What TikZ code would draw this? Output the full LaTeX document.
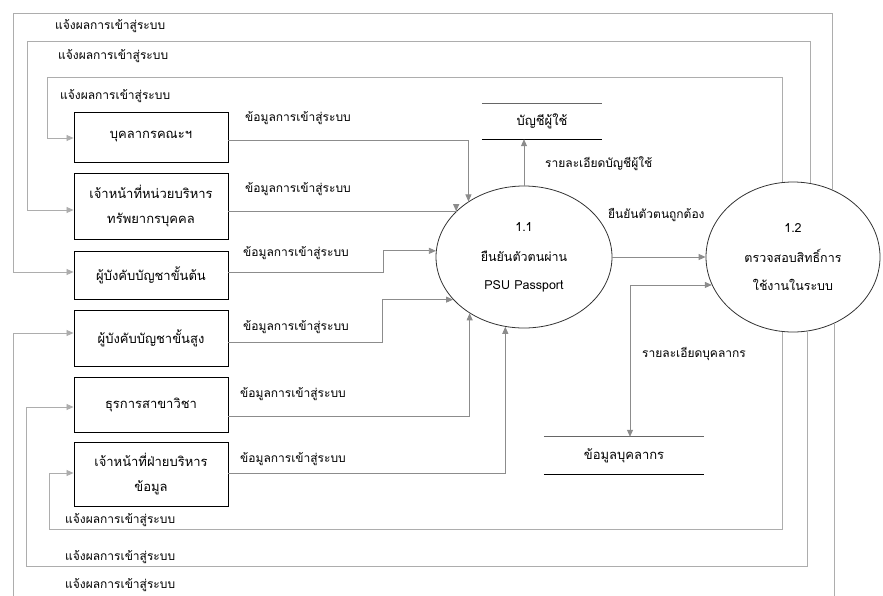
\documentclass[tikz,border=0pt]{standalone}
\usepackage{fontspec}
\newfontfamily\thaifont[Script=Thai]{Loma}
\usetikzlibrary{arrows.meta,shapes.geometric,calc}

\tikzset{
  box/.style={draw=black, line width=0.9pt, minimum width=154pt, align=center, inner sep=0pt,
    font=\thaifont\fontsize{13}{15}\selectfont},
  proc/.style={ellipse, draw=black!80, line width=0.8pt, align=center, inner sep=0pt,
    font=\thaifont\fontsize{12.5}{15}\selectfont},
  store/.style={minimum width=120pt, minimum height=35pt, inner sep=0pt,
    font=\thaifont\fontsize{13}{15}\selectfont},
  flow/.style={draw=black!45, line width=0.8pt, -{Triangle[length=7pt,width=6pt]}},
  fb/.style={draw=black!32, line width=0.8pt, -{Triangle[length=7pt,width=6pt]}},
  lbl/.style={anchor=west, inner sep=0pt},
  txt/.style={font=\thaifont\fontsize{12}{14}\selectfont}
}

\begin{document}
\begin{tikzpicture}[x=1pt, y=-1pt, txt]
\useasboundingbox (0,0) rectangle (883,595);
\clip (0,0) rectangle (883,595);

% external entities
\node[box, minimum height=50pt] (b1) at (151,137) {บุคลากรคณะฯ};
\node[box, minimum height=66pt] (b2) at (151,206) {เจ้าหน้าที่หน่วยบริหาร\\[10pt]ทรัพยากรบุคคล};
\node[box, minimum height=48pt] (b3) at (151,275) {ผู้บังคับบัญชาขั้นต้น};
\node[box, minimum height=56pt] (b4) at (151,338) {ผู้บังคับบัญชาขั้นสูง};
\node[box, minimum height=55pt] (b5) at (151,404.5) {ธุรการสาขาวิชา};
\node[box, minimum height=64pt] (b6) at (151,474) {เจ้าหน้าที่ฝ่ายบริหาร\\[10pt]ข้อมูล};

% processes
\node[proc, minimum width=176pt, minimum height=142pt] (e11) at (524,257)
  {1.1\\[15pt]ยืนยันตัวตนผ่าน\\[13pt]PSU Passport};
\node[proc, minimum width=174pt, minimum height=150pt] (e12) at (793,257)
  {1.2\\[15pt]ตรวจสอบสิทธิ์การ\\[13pt]ใช้งานในระบบ};

% data stores
\node[store] (s1) at (542,121.5) {บัญชีผู้ใช้};
\draw[black!60, line width=1pt] (s1.north west) -- (s1.north east);
\draw[black, line width=0.8pt] (s1.south west) -- (s1.south east);
\node[store, minimum width=160pt, minimum height=37pt] (s2) at (624,455.5) {ข้อมูลบุคลากร};
\draw[black!60, line width=1pt] (s2.north west) -- (s2.north east);
\draw[black, line width=0.8pt] (s2.south west) -- (s2.south east);

% login data flows into 1.1
\draw[flow] ([yshift=-3pt]b1.east) -| (e11.135);
\draw[flow] ([yshift=-5pt]b2.east) -- ([yshift=-5pt]b2.east -| e11.146) -- (e11.146);
\draw[flow] ([yshift=3pt]b3.east) -- ++(155,0) |- (e11.176);
\draw[flow] ([yshift=-4pt]b4.east) -- ++(154,0) |- (e11.211);
\draw[flow] ([yshift=-11.5pt]b5.east) -| (e11.226);
\draw[flow] ([yshift=1pt]b6.east) -| (e11.255);

\node[lbl] (l1) at (245,118) {ข้อมูลการเข้าสู่ระบบ};
\node[lbl] (l2) at (245,189) {ข้อมูลการเข้าสู่ระบบ};
\node[lbl] (l3) at (243,253) {ข้อมูลการเข้าสู่ระบบ};
\node[lbl] (l4) at (243,327) {ข้อมูลการเข้าสู่ระบบ};
\node[lbl] (l5) at (240,394) {ข้อมูลการเข้าสู่ระบบ};
\node[lbl] (l6) at (240,459) {ข้อมูลการเข้าสู่ระบบ};

% flows around the processes
\draw[flow] (e11.north) -- (e11.north |- s1.south);
\node[lbl] (l7) at (545,164) {รายละเอียดบัญชีผู้ใช้};
\draw[flow] (e11.east) -- (e12.west);
\node[lbl] (l8) at (608,215) {ยืนยันตัวตนถูกต้อง};
\draw[flow, {Triangle[length=7pt,width=6pt]}-{Triangle[length=7pt,width=6pt]}]
  (e12.199) -| ([xshift=6pt]s2.north);
\node[lbl] (l9) at (642,354) {รายละเอียดบุคลากร};

% login results returned to each entity
\coordinate (t1) at (13,13);
\coordinate (t2) at (27,41);
\coordinate (t3) at (47,77);
\coordinate (u1) at (49,529);
\coordinate (u2) at (26,566);
\coordinate (u3) at (13,640);

\draw[fb] (e12.60) |- (t1) |- ([yshift=3pt]b3.west);
\draw[fb] (e12.77) |- (t2) |- ([yshift=-4pt]b2.west);
\draw[fb] (e12.98) |- (t3) |- ([yshift=-1pt]b1.west);
\draw[fb] (e12.262) |- (u1) |- ([yshift=1pt]b6.west);
\draw[fb] (e12.281) |- (u2) |- ([yshift=-2.5pt]b5.west);
\draw[fb] (e12.302) |- (u3) |- ([yshift=5pt]b4.west);

\node[lbl] (f1) at (55,26) {แจ้งผลการเข้าสู่ระบบ};
\node[lbl] (f2) at (58,56) {แจ้งผลการเข้าสู่ระบบ};
\node[lbl] (f3) at (60,96) {แจ้งผลการเข้าสู่ระบบ};
\node[lbl] (f4) at (65,520) {แจ้งผลการเข้าสู่ระบบ};
\node[lbl] (f5) at (65,557) {แจ้งผลการเข้าสู่ระบบ};
\node[lbl] (f6) at (65,585) {แจ้งผลการเข้าสู่ระบบ};
\end{tikzpicture}
\end{document}
